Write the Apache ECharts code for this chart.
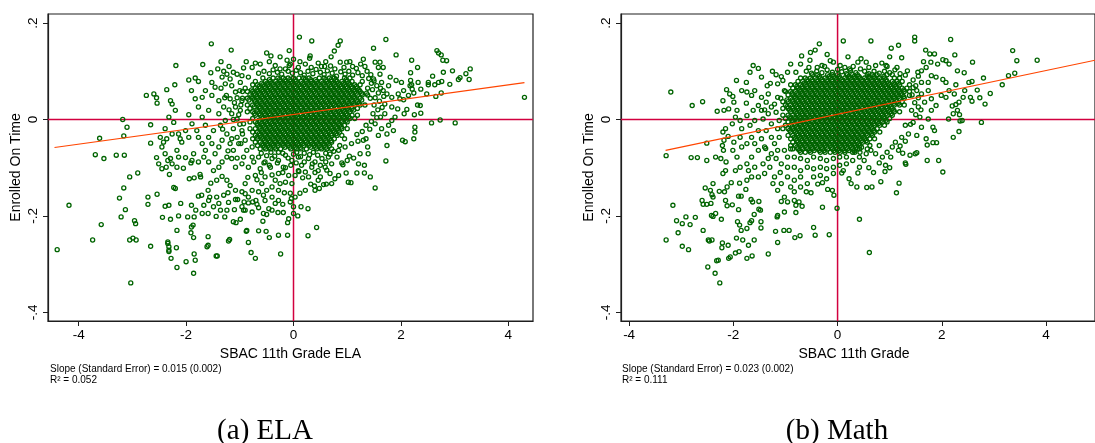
<!DOCTYPE html>
<html>
<head>
<meta charset="utf-8">
<title>Enrolled On Time vs SBAC 11th Grade</title>
<script src="https://cdn.jsdelivr.net/npm/echarts@6.0.0/dist/echarts.min.js"></script>
<style>
  html, body { margin: 0; padding: 0; background: #fff; }
  #chart { width: 1095px; height: 443px; }
</style>
</head>
<body>
<div id="chart"></div>
<script>
// ticks
const xTicks = [-4, -2, 0, 2, 4];
const yTicks = [-0.4, -0.2, 0, 0.2];

// axis ranges of the two panels
const yRange = [-0.418, 0.2189];
const elaXRange = [-4.571, 4.459];
const mathXRange = [-4.156, 4.94];

// fitted lines
const elaFitX = [-4.45, 4.3];
const elaFitY = [-0.058, 0.0765];
const mathFitX = [-3.3, 4.94];
const mathFitY = [-0.064, 0.123];

// ELA: scattered points around the cloud
const elaOuter = [
  [.11,.171],[.34,.163],[.87,.163],[.83,.154],[1.72,.166],[-1.53,.157],[-1.16,.144],[-.08,.143],[.76,.142],[1.49,.148],
  [1.91,.134],[2.67,.143],[2.7,.138],[2.75,.134],[2.78,.123],[2.85,.122],[2.2,.123],[-.5,.138],[-.42,.132],[-.71,.117],
  [-.12,.123],[.31,.132],[.3,.127],[-1.35,.12],[-1.69,.114],[-2.19,.112],[2.31,.108],[.87,.119],[.99,.119],[1.05,.12],
  [1.33,.11],[1.52,.119],[1.61,.119],[1.67,.108],[.46,.117],[.58,.11],[.69,.111],[.77,.105],[-.34,.112],[-.25,.105],
  [-.15,.105],[-.06,.115],[.09,.108],[.22,.115],[-.93,.107],[-.77,.108],[-.65,.096],[-1.12,.098],[-1.24,.094],[-1.41,.105],
  [-1.54,.097],[-1.83,.086],[-1.77,.079],[-1.95,.082],[-1.9,.06],[-2.21,.072],[-2.36,.062],
  [1.91,.081],[2.01,.077],[2.18,.097],[2.18,.081],[2.2,.072],[2.21,.063],[2.24,.055],[2.05,.06],[1.95,.053],[2.51,.077],
  [2.51,.072],[2.63,.072],[2.7,.077],[2.76,.079],[2.59,.09],[2.79,.098],[2.96,.101],[3.29,.105],[3.21,.095],[3.27,.083],
  [3.1,.087],[3.07,.083],[2.91,.073],[2.75,.055],[2.65,.048],[2.31,.03],[2.37,.013],[2.25,.01],[2.57,-.007],[2.73,-.001],
  [3.01,-.007],[4.3,.046],[2.05,.041],[2.11,.021],[2.06,.012],[2.26,-.016],[2.26,-.026],[2.24,-.04],[2.03,-.043],[2.08,-.046],
  [1.74,-.054],[1.72,-.086],[1.52,-.142],[1.43,-.119],[1.32,-.111],[1.18,-.111],[1.02,-.13],[1.07,-.131],[.84,-.116],[.92,-.094],
  [.98,-.111],[1.39,-.071],[1.24,-.071],[1.21,-.092],[1.32,-.095],[1.38,-.057],[1.18,-.031],[1.3,-.043],[1.04,-.076],[1.83,-.002],
  [1.89,.005],[1.77,-.012],[1.86,-.023],[1.74,-.03],[1.58,-.033],[1.64,-.019],[1.52,-.009],[1.94,.022],[1.83,.026],[1.7,.032],
  [1.98,.043],[1.83,.046],[1.74,.053],[1.67,.06],[1.77,.07],[1.64,.077],[1.8,.088],[1.61,.094],[1.49,.084],[1.58,.108],
  [2.17,.07],[2.14,.05],[2.36,.029],[2.48,.053],[2.37,.063],[2.32,.077],
  [.56,-.135],[.61,-.134],[.39,-.138],[.48,-.143],[.32,-.134],[.17,-.121],[.03,-.116],[.12,-.153],[-.06,-.153],[-.04,-.164],
  [-.06,-.171],[.14,-.181],[.27,-.185],[.08,-.2],[.43,-.224],[.27,-.241],[-.28,-.24],[-.24,-.279],[-.11,-.24],[-.09,-.206],
  [-.11,-.214],[-.29,-.193],[-.19,-.193],[-.2,-.176],[-.28,-.147],[-.17,-.152],[-.25,-.133],[-.34,-.126],[-.15,-.13],[-.03,-.133],
  [.09,-.106],[.22,-.109],[.34,-.099],[.46,-.106],[.59,-.099],[.71,-.092],[.68,-.112],[.5,-.119],[.28,-.119],[-.71,-.288],
  [-.79,-.276],[-.84,-.255],[-.45,-.245],[-.51,-.232],[-.65,-.231],[-.57,-.211],[-.5,-.197],[-.65,-.183],[-.68,-.176],[-.76,-.171],
  [-.84,-.173],[-.92,-.171],[-1.04,-.166],[-1.08,-.166],[-.9,-.188],[-.88,-.232],[-.99,-.207],[-1.07,-.214],[-1.12,-.212],[-1.21,-.252],
  [-1.19,-.249],[-.87,-.23],[-.53,-.168],[-.56,-.157],[-.65,-.15],[-.77,-.147],[-.9,-.133],[-.96,-.15],[-1.08,-.147],[-1.18,-.137],
  [-1.24,-.126],[-1.33,-.118],[-1.43,-.126],[-1.54,-.132],[-1.59,-.147],[-1.71,-.157],[-1.77,-.159],[-1.56,-.161],[-1.43,-.161],[-1.3,-.157],
  [-1.22,-.152],[-.4,-.161],[-.59,-.133],[-.53,-.119],[-.71,-.116],[-.62,-.102],[-.43,-.099],[-.28,-.112],[-.19,-.099],[-.09,-.116],
  [-.84,-.099],[-.96,-.092],[-1.08,-.099],[-1.15,-.081],[-1.24,-.078],[-1.33,-.088],[-1.39,-.099],[-1.49,-.106],[-1.58,-.088],[-1.67,-.078],
  [-1.77,-.088],[-1.89,-.085],[-1.91,-.09],[-2.01,-.079],[-2.05,-.101],[-1.86,-.071],[-1.85,-.121],[-1.94,-.123],[-1.74,-.114],[-1.73,-.119],
  [-2.23,-.141],[-2.2,-.143],[-2.31,-.114],[-2.55,-.079],[-2.45,-.057],[-2.36,-.04],[-2.29,-.081],[-2.39,-.071],[-2.26,-.092],[-2.17,-.099],
  [-2.14,-.078],[-2.17,-.064],[-2.08,-.047],[-2.26,-.03],[-2.14,-.03],[-2.11,-.04],[-2.23,-.006],[-2.2,.019],[-2.26,.032],[-2.29,.039],
  [-1.95,.01],[-1.89,-.009],[-1.8,-.023],[-1.77,-.037],[-1.95,-.037],[-2.01,-.023],[-1.7,-.05],[-1.64,-.064],[-1.52,-.05],[-1.46,-.071],
  [-1.39,-.057],[-1.58,-.037],[-1.49,-.023],[-1.64,-.012],[-1.7,.005],[-1.58,.019],[-1.77,.026],[-1.83,.043],[-1.7,.046],[-1.52,.05],
  [-1.64,.06],[-1.46,.067],[-1.52,.077],[-1.33,.088],[-1.27,.074],[-1.39,.039],[-1.3,.026],[-1.39,.012],[-1.27,-.002],[-1.36,-.012],
  [-1.24,-.03],[-1.33,-.043],[-1.18,-.05],[-1.12,-.064],[-1.02,-.05],[-1.05,-.037],[-1.12,-.019],[-1.05,.001],[-1.15,.012],[-1.08,.026],
  [-1.18,.043],[-1.08,.057],[-1.15,.07],[-.99,.077],[-.96,.091],[-1.05,.094],[-1.18,.084],[-.84,.088],[-.96,.039],[-.99,.019],
  [-.93,-.009],[-.96,-.023],[-.9,-.043],[-.87,-.064],[-.93,-.078],[-.77,-.078],[-.77,-.057],[-.74,-.088],[-.03,-.085],[.09,-.078],
  [.28,-.081],[.4,-.088],[.53,-.081],[.65,-.078],[.81,-.078],[.84,-.064],[.96,-.057],[1.08,-.05],[-.28,-.085],[-.4,-.081],
  [-.53,-.088],[-.65,-.078],[-.15,-.074],[-.28,-.068],[.15,-.095],[.46,-.126],[.71,-.133],[.77,-.123],[-.4,-.14],[-.5,-.147],
  [-.96,-.181],[-.93,-.188],[-.46,-.185],[-.4,-.188],[-.56,-.195],[-.77,-.192],[-1.1,-.187],[-1.21,-.172],[-1.24,-.188],[-1.36,-.188],
  [-1.49,-.181],[-1.28,-.202],[-1.44,-.201],[-1.59,-.195],[-1.61,-.264],[-1.59,-.261],[-1.59,-.243],[-1.42,-.283],[-1.44,-.283],[-1.85,-.279],
  [-1.83,-.292],[-2,-.295],[-1.86,-.319],[-2.17,-.307],[-2.18,-.266],[-2.17,-.23],[-2.28,-.288],[-2.34,-.254],[-2.34,-.257],[-2.32,-.264],
  [-2.32,-.271],[-2.32,-.274],[-2.44,-.203],[-2.29,-.207],[-2.39,-.18],[-2.32,-.178],[-2.1,-.174],[-1.9,-.178],[-2.14,-.2],[-1.97,-.202],
  [-1.85,-.202],[-1.87,-.219],[-1.9,-.223],[-1.91,-.235],[-1.86,-.245],[-2.66,-.263],[-2.93,-.25],[-2.99,-.246],[-3.05,-.25],[-2.96,-.21],
  [-2.94,-.216],[-3.03,-.339],[-3.13,-.187],[-3.21,-.202],[-3.24,-.163],[-3.16,-.142],[-3.05,-.119],[-2.9,-.111],[-3.58,-.218],[-3.74,-.25],
  [-4.18,-.178],[-4.4,-.27],[-3.69,-.073],[-3.53,-.081],[-3.3,-.074],[-3.15,-.074],[-3.61,-.039],[-3.16,-.034],[-3.1,-.016],[-3.18,0],
  [-2.74,.05],[-2.6,.053],[-2.55,.045],[-2.54,.034],[-2.66,-.011],[-2.66,-.049],[-2.71,-.161],[-2.71,-.176],[-2.54,-.155],[-2.48,-.037],
  [-2.42,-.047],[-2.39,-.019],[-2.32,.005],[-2.51,-.092],[-2.45,-.102],[-2.37,-.099],[-2.34,-.085],[-1.82,-.188],[-1.7,-.195],[-1.67,-.178],
  [-1.58,-.168],[-1.39,-.174],[-.9,-.154],[-.84,-.161],[-.7,-.168],[-.34,-.174],[-.28,-.168],[0,-.181],[0,-.195],[.03,-.161],
  [.22,-.147],[.4,-.147],
  [-1.3,.1],[-1.2,.11],[-.88,.12],[-.62,.115],[-.45,.12],[-1.35,.065],[-1.28,.045],[-1.32,-.02],[-1.22,-.065],[-1.05,-.08],
  [-.85,-.12],[-.68,-.125],[.9,-.09],[1,-.085],[1.12,-.08],[1.1,.11],[1.3,.125],[.7,.13],[0,.125],[-.25,.13]
];

// ELA: edge of the dense cloud
const elaFringe = [
  [-.55,.1],[-.45,.095],[-.38,.103],[-.3,.098],[-.22,.094],[-.1,.1],[-.02,.096],[.05,.102],[.13,.097],[.2,.092],
  [.27,.1],[.36,.095],[.42,.104],[.5,.098],[.57,.093],[.63,.101],[.72,.096],[.8,.09],[.88,.099],[.96,.094],
  [1.03,.1],[1.1,.092],[1.2,.097],[1.28,.091],[1.37,.1],[1.44,.093],[.12,.12],[.52,.11],[.94,.108],[1.17,.106],
  [-.08,.112],[.33,.108],[.6,.12],[1.25,.115],
  [1.5,.08],[1.55,.07],[1.47,.062],[1.58,.055],[1.52,.045],[1.6,.038],[1.5,.03],[1.57,.02],[1.48,.012],[1.55,.004],
  [1.45,-.004],[1.35,-.012],[1.42,-.02],[1.28,-.025],[1.35,-.04],[1.2,-.045],[1.62,.065],[1.68,.048],[1.65,.025],[1.7,.012],
  [1.62,.005],[1.4,.085],[1.45,.075],
  [-1,.06],[-1.05,.045],[-.98,.03],[-1.02,.01],[-1,-.01],[-.95,-.03],[-.98,-.05],[-1.1,.035],[-1.12,0],[-1.2,.02],
  [-1.15,-.04],[-1.25,.05],
  [-.6,-.07],[-.5,-.075],[-.42,-.068],[-.35,-.076],[-.2,-.07],[-.1,-.08],[0,-.072],[.06,-.068],[.13,-.077],[.2,-.07],
  [.3,-.073],[.37,-.068],[.45,-.074],[.6,-.07],[.68,-.072],[.75,-.066],[-.55,-.09],[-.45,-.095],[-.3,-.09],[-.15,-.1],
  [-.05,-.095],[.05,-.09],[.2,-.088],[.35,-.092],[.5,-.095],[.6,-.088],[-.6,-.11],[-.4,-.115],[-.2,-.11],[.1,-.108],
  [.4,-.11],[.62,-.105]
];

// ELA: solid core, one list of x values per y level
const elaCoreY = [.086,.079,.072,.065,.058,.051,.044,.037,.030,.023,.016,.009,.002,-.005,-.012,-.019,-.026,-.033,-.040,-.047,-.054,-.061];
const elaCoreX = [
  [-.57,-.38,-.29,-.19,-.1,0,.1,.19,.29,.48,.57,.67,.76,.95,1.05],
  [-.71,-.52,-.43,-.33,-.24,-.14,-.05,.05,.14,.24,.33,.43,.52,.62,.71,.81,.9,1,1.09,1.28],
  [-.76,-.67,-.57,-.48,-.38,-.29,-.19,-.1,0,.1,.19,.29,.38,.48,.57,.67,.76,.86,.95,1.05,1.14,1.24],
  [-.9,-.71,-.62,-.52,-.43,-.33,-.24,-.14,-.05,.05,.14,.24,.33,.43,.52,.62,.71,.81,.9,1,1.09,1.19,1.38],
  [-.95,-.86,-.76,-.67,-.57,-.48,-.38,-.29,-.19,-.1,0,.1,.19,.29,.38,.48,.57,.67,.76,.86,.95,1.05,1.14,1.24],
  [-.81,-.71,-.62,-.52,-.43,-.33,-.24,-.14,-.05,.05,.14,.24,.33,.43,.52,.62,.71,.81,.9,1,1.09,1.19,1.28,1.38],
  [-.95,-.86,-.76,-.67,-.57,-.48,-.38,-.29,-.19,-.1,0,.1,.19,.29,.38,.48,.57,.67,.76,.86,.95,1.05,1.14,1.24,1.43],
  [-.71,-.62,-.52,-.43,-.33,-.24,-.14,-.05,.05,.14,.24,.33,.43,.52,.62,.71,.81,.9,1,1.09,1.19],
  [-.86,-.76,-.67,-.57,-.48,-.38,-.29,-.19,-.1,0,.1,.19,.29,.38,.48,.57,.67,.76,.86,.95,1.05,1.14,1.24,1.33],
  [-.81,-.62,-.52,-.43,-.33,-.24,-.14,-.05,.05,.14,.24,.33,.43,.52,.62,.71,.81,.9,1,1.09,1.19],
  [-.86,-.76,-.67,-.57,-.48,-.38,-.29,-.19,-.1,0,.1,.19,.29,.38,.48,.57,.67,.76,.86,.95,1.05],
  [-.71,-.62,-.52,-.43,-.33,-.24,-.14,-.05,.05,.14,.24,.33,.43,.52,.62,.71,.81,.9,1,1.09,1.19],
  [-.76,-.57,-.48,-.38,-.29,-.19,-.1,0,.1,.19,.29,.38,.48,.57,.67,.76,.86,.95,1.05,1.14],
  [-.81,-.71,-.62,-.52,-.43,-.33,-.24,-.14,-.05,.05,.14,.24,.33,.43,.52,.62,.71,.81,.9,1],
  [-.67,-.57,-.48,-.38,-.29,-.19,-.1,0,.1,.19,.29,.38,.48,.57,.67,.76,.86,.95],
  [-.81,-.71,-.62,-.52,-.43,-.33,-.24,-.14,-.05,.05,.14,.24,.33,.43,.52,.62,.71,.81,.9,1],
  [-.76,-.67,-.57,-.48,-.38,-.29,-.19,-.1,0,.1,.19,.29,.38,.48,.57,.67,.76,.86],
  [-.71,-.62,-.52,-.43,-.33,-.24,-.14,-.05,.05,.14,.24,.33,.43,.52,.62,.71,.81,.9],
  [-.76,-.67,-.57,-.48,-.38,-.29,-.19,-.1,0,.1,.19,.29,.38,.48,.57,.67,.76,.95],
  [-.71,-.62,-.52,-.43,-.33,-.24,-.14,-.05,.05,.14,.24,.33,.43,.52,.62,.71],
  [-.67,-.57,-.48,-.38,-.29,-.19,-.1,0,.1,.19,.29,.38,.48,.57,.67,.86],
  [-.62,-.52,-.43,-.33,-.24,-.05,.05,.14,.24,.43,.52,.62,.71]
];

// ELA: in-between levels where the cloud is darkest
const elaMidY = [.0825,.0755,.0685,.0615,.0545,.0475,.0405,.0335,.0265,.0195,.0125,.0055,-.0015,-.0085,-.0155,-.0225,-.0295,-.0365,-.0435,-.0505,-.0575];
const elaMidX = [
  [-.45,-.26,-.16,-.07,.03,.22,.32,.41,.6,.7,.79,.98],
  [-.59,-.49,-.4,-.3,-.21,-.11,-.02,.08,.17,.27,.36,.46,.55,.65,.74,.84,.93,1.03],
  [-.64,-.54,-.45,-.35,-.26,-.16,-.07,.03,.13,.22,.32,.41,.51,.6,.7,.79,.89,.98,1.08,1.17],
  [-.78,-.68,-.59,-.49,-.4,-.3,-.21,-.11,-.02,.08,.17,.27,.36,.46,.55,.65,.74,.84,.93,1.03,1.12,1.22],
  [-.73,-.64,-.54,-.45,-.35,-.26,-.16,-.07,.03,.13,.22,.32,.41,.51,.6,.7,.79,.89,.98,1.08,1.17,1.27,1.36],
  [-.78,-.68,-.59,-.49,-.4,-.3,-.21,-.11,-.02,.08,.17,.27,.36,.46,.55,.65,.74,.84,.93,1.03,1.12],
  [-.83,-.73,-.64,-.54,-.45,-.35,-.26,-.16,-.07,.03,.13,.22,.32,.41,.51,.6,.7,.79,.89,.98,1.08,1.17,1.27],
  [-.68,-.59,-.49,-.4,-.3,-.21,-.11,-.02,.08,.17,.27,.36,.46,.55,.65,.74,.84,.93,1.03,1.12,1.22],
  [-.73,-.64,-.54,-.45,-.35,-.26,-.16,-.07,.03,.13,.22,.32,.41,.51,.6,.7,.79,.89,.98,1.08],
  [-.68,-.59,-.49,-.4,-.3,-.21,-.11,-.02,.08,.17,.27,.36,.46,.55,.65,.74,.84,.93,1.03,1.12],
  [-.73,-.64,-.54,-.45,-.35,-.26,-.16,-.07,.03,.13,.22,.32,.41,.51,.6,.7,.79,.89,.98],
  [-.59,-.49,-.4,-.3,-.21,-.11,-.02,.08,.17,.27,.36,.46,.55,.65,.74,.84,.93,1.03],
  [-.64,-.54,-.45,-.35,-.26,-.16,-.07,.03,.13,.22,.32,.41,.51,.6,.7,.79,.89,.98],
  [-.68,-.59,-.49,-.4,-.3,-.21,-.11,-.02,.08,.17,.27,.36,.46,.55,.65,.74,.84],
  [-.64,-.54,-.45,-.35,-.26,-.16,-.07,.03,.13,.22,.32,.41,.51,.6,.7,.79,.89],
  [-.59,-.49,-.4,-.3,-.21,-.11,-.02,.08,.17,.27,.36,.46,.55,.65,.74,.84],
  [-.64,-.54,-.45,-.35,-.26,-.16,-.07,.03,.13,.22,.32,.41,.51,.6,.7,.79],
  [-.68,-.59,-.49,-.4,-.3,-.21,-.11,-.02,.08,.17,.27,.36,.46,.55,.65],
  [-.54,-.45,-.35,-.26,-.16,-.07,.03,.13,.22,.32,.41,.51,.6,.7],
  [-.59,-.49,-.4,-.3,-.21,-.11,-.02,.08,.17,.27,.36,.46,.55,.65],
  [-.54,-.45,-.35,-.16,-.07,.03,.13,.32,.41,.51,.6]
];

// Math: scattered points around the cloud
const mathOuter = [
  [-3.2,.057],[-2.79,.029],[-2.59,.037],[-3.29,-.075],[-2.81,-.079],[-2.69,-.079],[-2.51,-.049],[-2.51,-.085],[-3.16,-.178],[-3.09,-.21],
  [-2.98,-.216],[-2.91,-.202],[-2.83,-.218],[-2.73,-.203],[-3.06,-.235],[-3.29,-.25],[-2.98,-.263],[-2.86,-.27],[-2.58,-.23],[-2.48,-.25],
  [-2.46,-.252],[-2.41,-.25],[-2.49,-.306],[-2.35,-.319],[-2.26,-.339],[-2.32,-.293],[-2.29,-.292],[-2.21,-.256],[-2.22,-.266],[-2.1,-.261],
  [-2.06,-.285],[-2.09,-.288],[-2.23,-.207],[-2.39,-.201],[-2.42,-.199],[-2.34,-.195],[-2.6,-.168],[-2.51,-.176],[-2.43,-.174],[-2.58,-.176],
  [-2.54,-.142],[-2.41,-.156],[-2.39,-.161],[-2.44,-.147],[-2.27,-.149],[-2.39,-.133],[-2.17,-.15],[-2.12,-.14],[-2.04,-.131],[-2.15,-.168],
  [-2.12,-.179],[-2.02,-.177],[-1.9,-.187],[-1.9,-.159],[-1.85,-.159],[-1.88,-.132],[-1.76,-.145],[-1.66,-.166],[-1.63,-.171],[-1.51,-.17],
  [-1.51,-.186],[-1.48,-.188],[-1.6,-.197],[-1.65,-.21],[-1.68,-.214],[-1.74,-.226],[-1.85,-.23],[-1.92,-.212],[-1.88,-.219],[-1.94,-.246],
  [-1.82,-.25],[-1.71,-.261],[-1.64,-.283],[-1.74,-.288],[-1.89,-.274],[-1.96,-.277],[-1.6,-.25],[-1.47,-.225],[-1.47,-.212],[-1.33,-.279],
  [-1.19,-.232],[-1.15,-.255],[-1.16,-.202],[-1.15,-.199],[-1.02,-.192],[-1.03,-.23],[-.93,-.23],[-.82,-.245],[-.72,-.241],[-.8,-.193],
  [-.68,-.18],[-.8,-.178],[-.83,-.168],[-.74,-.171],[-.96,-.171],[-1.08,-.17],[-1.02,-.161],[-.83,-.15],[-.46,-.224],[-.43,-.24],
  [-.16,-.239],[-.29,-.182],[-.01,-.184],[-.51,-.152],[-.19,-.145],[-.1,-.147],[-.07,-.157],[-.38,-.134],[-.29,-.131],[.42,-.207],
  [.61,-.276],[.22,-.123],[.26,-.133],[.37,-.14],[.56,-.141],[.66,-.14],[.83,-.129],[1.13,-.152],[1.18,-.132],[.69,-.11],
  [.91,-.108],[.92,-.095],[.51,-.085],[.39,-.111],[.42,-.099],[.08,-.111],[.11,-.106],[-.08,-.112],[1.3,-.09],[1.31,-.093],
  [1.39,-.074],[1.49,-.071],[1.52,-.069],[1.72,-.085],[1.94,-.085],[2.02,-.109],[1.72,-.053],[1.83,-.048],[1.9,-.048],[2.22,-.037],
  [2.33,-.025],[2.35,-.003],[2.39,-.002],[2.34,.01],[2.22,.012],[2.13,.001],[2.76,-.006],[2.83,.032],[2.93,.054],[2.73,.045],
  [2.58,.038],[2.55,.046],[2.68,.061],[2.52,.077],[2.58,.079],[2.8,.086],[3.16,.072],[3.28,.091],[3.4,.096],[3.36,.143],
  [3.44,.122],[3.83,.123],[2.41,.046],[2.44,.06],[2.43,.097],[2.59,.119],[2.3,.101],[2.25,.134],[2.17,.166],[2.14,.115],
  [2.08,.122],[2.02,.124],[1.86,.136],[1.77,.136],[1.69,.144],[1.79,.119],[1.92,.115],[2.02,.083],[2.08,.077],[2.27,.072],
  [2.24,.053],[2.33,.036],[2.27,.031],[2.3,.019],[2.2,.028],[1.99,.05],[2.08,.046],[2.14,.06],[1.89,.029],[1.8,.019],
  [1.83,-.016],[1.86,-.023],[1.74,.001],[1.61,-.016],[1.52,-.033],[1.58,.005],[1.48,.163],[1.48,.171],[1.17,.154],[1.03,.148],
  [1.23,.128],[1.14,.108],[1.34,.101],[1.54,.098],[1.61,.101],[1.7,.108],[1.8,.091],[1.89,.088],[1.74,.077],[1.61,.077],
  [1.45,.082],[1.52,.06],[1.61,.053],[1.74,.06],[1.8,.043],[1.67,.036],[1.55,.026],[1.42,.019],[1.45,-.006],[1.3,-.012],
  [1.36,-.03],[1.23,-.037],[1.11,-.047],[1.17,-.064],[1.05,-.057],[.95,-.068],[1.02,-.078],[.86,-.078],[.73,-.071],[.8,-.054],
  [.64,-.064],[.11,.163],[.64,.163],[.85,.117],[.93,.112],[.73,.112],[.55,.119],[.45,.126],[.39,.119],[.23,.105],
  [.14,.108],[-.08,.119],[-.14,.122],[-.3,.112],[-.35,.157],[-.43,.144],[-.52,.139],[-.53,.123],[-.69,.132],[-.71,.115],
  [-.55,.108],[-.39,.108],[-.9,.115],[-.8,.098],[-.96,.098],[-1.08,.089],[-1.18,.093],[-1.29,.075],[-1.15,.074],[-1.05,.081],
  [-1.46,.088],[-1.52,.106],[-1.62,.112],[-1.68,.098],[-1.75,.077],[-1.84,.06],[-1.94,.081],[-2.13,.062],[-2.07,.053],[-2.01,.048],
  [-2.2,.039],[-2.31,.017],[-2.18,.019],[-2.09,.022],[-1.99,.036],[-1.93,.019],[-1.75,.034],[-1.65,.05],[-1.74,.057],[-1.59,.06],
  [-1.46,.046],[-1.33,.053],[-1.37,.036],[-1.52,.029],[-1.62,.019],[-1.74,.008],[-1.87,-.002],[-1.96,.005],[-2.02,-.009],[-2.15,-.019],
  [-2.2,-.026],[-2.1,-.035],[-2.18,-.043],[-2.21,-.054],[-2.19,-.064],[-2.34,-.078],[-2.24,-.081],[-2.14,-.088],[-2.2,-.112],[-2.15,-.106],
  [-2.01,-.064],[-1.93,-.078],[-1.84,-.057],[-1.74,-.05],[-1.87,-.037],[-1.99,-.047],[-1.84,-.019],[-1.68,-.012],[-1.59,-.002],[-1.52,-.023],
  [-1.65,-.037],[-1.59,-.05],[-1.46,-.04],[-1.37,-.023],[-1.27,-.009],[-1.27,-.037],[-1.4,-.057],[-1.52,-.064],[-1.65,-.078],[-1.74,-.092],
  [-1.87,-.099],[-1.96,-.106],[-1.71,-.106],[-1.59,-.099],[-1.43,-.092],[-1.33,-.081],[-1.27,-.071],[-1.3,-.099],[-1.4,-.112],[-1.52,-.119],
  [-1.65,-.119],[-1.74,-.126],[-1.21,-.119],[-1.08,-.133],[-1.24,-.133],[-1.15,-.147],[-.96,-.119],[-.83,-.126],[-.71,-.119],[-.58,-.133],
  [-.46,-.119],[-.33,-.116],[-.21,-.123],[-.71,-.14],[-.96,-.099],[-1.08,-.092],[-1.18,-.081],[-1.15,-.064],[-1.21,-.05],[-1.12,-.037],
  [-1.15,-.019],[-1.12,-.002],[-1.18,.015],[-1.21,.032],[-1.15,.046],[-1.27,.026],[-1.33,.012],[-1.43,.001],[-1.46,.019],[-1.02,.06],
  [-.83,-.099],[-.71,-.106],[-.58,-.099],[-.46,-.102],[-.33,-.099],[-.21,-.102],[-.08,-.099],[.04,-.095],[.17,-.092],[.29,-.085],
  [.42,-.078],[.55,-.071],[.17,-.078],[.04,-.078],[-.08,-.081],[-.21,-.085],[-.33,-.081],[-.46,-.078],[-.58,-.085],[-.71,-.081],
  [-.83,-.078],[-.96,-.078],[-1.02,-.064],[-.9,-.061],[.29,-.068],[.42,-.061],
  [-1.35,.07],[-1.25,.1],[-1.4,.02],[-1.38,-.06],[-1.1,-.11],[-.9,-.14],[-.6,-.15],[.6,-.1],[.8,-.09],[1,-.1],
  [1.25,-.07],[1.55,.09],[1.65,.12],[.2,.13],[-.2,.135],[1,.13],[1.6,.02],[1.7,-.04]
];

// Math: edge of the dense cloud
const mathFringe = [
  [-.6,.1],[-.5,.096],[-.4,.1],[-.3,.097],[-.2,.103],[-.1,.098],[0,.104],[.08,.099],[.17,.095],[.25,.102],
  [.35,.097],[.44,.105],[.52,.1],[.6,.095],[.7,.1],[.8,.096],[.9,.1],[1,.097],[1.1,.103],[1.2,.095],
  [1.3,.092],[-.25,.11],[.05,.112],[.3,.11],[.6,.108],[.95,.11],
  [1.5,.07],[1.55,.045],[1.48,.035],[1.5,.01],[1.4,-.01],[1.38,.05],[1.45,.066],[1.3,-.045],[1.2,-.055]
];

// Math: solid core, one list of x values per y level
const mathCoreY = [.093,.086,.079,.072,.065,.058,.051,.044,.037,.030,.023,.016,.009,.002,-.005,-.012,-.019,-.026,-.033,-.040,-.047,-.054,-.061,-.068];
const mathCoreX = [
  [-.48,-.38,-.19,-.1,0,.19,.29,.38,.57,.67,.76,.95,1.05],
  [-.71,-.62,-.52,-.43,-.33,-.24,-.14,-.05,.05,.14,.24,.33,.43,.52,.62,.71,.81,.9,1.09,1.19],
  [-.76,-.67,-.57,-.48,-.38,-.29,-.19,-.1,0,.1,.19,.29,.38,.48,.57,.67,.76,.86,.95,1.05,1.14,1.24],
  [-.9,-.81,-.71,-.62,-.52,-.43,-.33,-.24,-.14,-.05,.05,.14,.24,.33,.43,.52,.62,.71,.81,.9,1,1.09,1.19,1.38],
  [-.86,-.76,-.67,-.57,-.48,-.38,-.29,-.19,-.1,0,.1,.19,.29,.38,.48,.57,.67,.76,.86,.95,1.05,1.14,1.24,1.33],
  [-1,-.9,-.81,-.71,-.62,-.52,-.43,-.33,-.24,-.14,-.05,.05,.14,.24,.33,.43,.52,.62,.71,.81,.9,1,1.09,1.19,1.28,1.38],
  [-.95,-.86,-.76,-.67,-.57,-.48,-.38,-.29,-.19,-.1,0,.1,.19,.29,.38,.48,.57,.67,.76,.86,.95,1.05,1.14,1.24,1.43],
  [-1.09,-.9,-.81,-.71,-.62,-.52,-.43,-.33,-.24,-.14,-.05,.05,.14,.24,.33,.43,.52,.62,.71,.81,.9,1,1.09,1.19,1.28],
  [-1.05,-.95,-.86,-.76,-.67,-.57,-.48,-.38,-.29,-.19,-.1,0,.1,.19,.29,.38,.48,.57,.67,.76,.86,.95,1.05,1.14,1.24],
  [-1,-.9,-.81,-.71,-.62,-.52,-.43,-.33,-.24,-.14,-.05,.05,.14,.24,.33,.43,.52,.62,.71,.81,.9,1,1.09,1.19,1.28],
  [-1.05,-.95,-.86,-.76,-.67,-.57,-.48,-.38,-.29,-.19,-.1,0,.1,.19,.29,.38,.48,.57,.67,.76,.86,.95,1.05],
  [-.9,-.81,-.71,-.62,-.52,-.43,-.33,-.24,-.14,-.05,.05,.14,.24,.33,.43,.52,.62,.71,.81,.9,1,1.09,1.19],
  [-1.05,-.95,-.86,-.76,-.67,-.57,-.48,-.38,-.29,-.19,-.1,0,.1,.19,.29,.38,.48,.57,.67,.76,.86,.95,1.05],
  [-1,-.9,-.81,-.71,-.62,-.52,-.43,-.33,-.24,-.14,-.05,.05,.14,.24,.33,.43,.52,.62,.71,.81,.9,1],
  [-.95,-.86,-.76,-.67,-.57,-.48,-.38,-.29,-.19,-.1,0,.1,.19,.29,.38,.48,.57,.67,.76,.86,.95],
  [-1,-.9,-.81,-.71,-.62,-.52,-.43,-.33,-.24,-.14,-.05,.05,.14,.24,.33,.43,.52,.62,.71,.81,.9],
  [-1.05,-.95,-.86,-.76,-.67,-.57,-.48,-.38,-.29,-.19,-.1,0,.1,.19,.29,.38,.48,.57,.67,.76],
  [-.9,-.81,-.71,-.62,-.52,-.43,-.33,-.24,-.14,-.05,.05,.14,.24,.33,.43,.52,.62,.71,.81],
  [-.95,-.86,-.76,-.67,-.57,-.48,-.38,-.29,-.19,-.1,0,.1,.19,.29,.38,.48,.57,.67],
  [-.9,-.81,-.71,-.62,-.52,-.43,-.33,-.24,-.14,-.05,.05,.14,.24,.33,.43,.52,.62,.71],
  [-.86,-.76,-.67,-.57,-.48,-.38,-.29,-.19,-.1,0,.1,.19,.29,.38,.48,.57],
  [-.9,-.81,-.71,-.62,-.52,-.43,-.33,-.24,-.14,-.05,.05,.14,.24,.33,.43,.62],
  [-.86,-.76,-.67,-.57,-.48,-.38,-.29,-.19,-.1,0,.1,.19,.29,.38,.57],
  [-.71,-.62,-.52,-.33,-.24,-.14,-.05,.05,.14,.33,.43]
];

// Math: in-between levels where the cloud is darkest
const mathMidY = [.0895,.0825,.0755,.0685,.0615,.0545,.0475,.0405,.0335,.0265,.0195,.0125,.0055,-.0015,-.0085,-.0155,-.0225,-.0295,-.0365,-.0435,-.0505,-.0575,-.0645];
const mathMidX = [
  [-.35,-.16,-.07,.03,.22,.32,.41,.6,.7,.89],
  [-.59,-.49,-.4,-.3,-.21,-.11,-.02,.08,.17,.27,.36,.46,.55,.65,.74,.84,.93],
  [-.64,-.54,-.45,-.35,-.26,-.16,-.07,.03,.13,.22,.32,.41,.51,.6,.7,.79,.89,.98,1.08,1.17],
  [-.78,-.68,-.59,-.49,-.4,-.3,-.21,-.11,-.02,.08,.17,.27,.36,.46,.55,.65,.74,.84,.93,1.03,1.12],
  [-.73,-.64,-.54,-.45,-.35,-.26,-.16,-.07,.03,.13,.22,.32,.41,.51,.6,.7,.79,.89,.98,1.08,1.17,1.27],
  [-.87,-.78,-.68,-.59,-.49,-.4,-.3,-.21,-.11,-.02,.08,.17,.27,.36,.46,.55,.65,.74,.84,.93,1.03,1.12,1.22],
  [-.83,-.73,-.64,-.54,-.45,-.35,-.26,-.16,-.07,.03,.13,.22,.32,.41,.51,.6,.7,.79,.89,.98,1.08,1.17,1.27],
  [-.97,-.87,-.78,-.68,-.59,-.49,-.4,-.3,-.21,-.11,-.02,.08,.17,.27,.36,.46,.55,.65,.74,.84,.93,1.03,1.12],
  [-.83,-.73,-.64,-.54,-.45,-.35,-.26,-.16,-.07,.03,.13,.22,.32,.41,.51,.6,.7,.79,.89,.98,1.08,1.17],
  [-.97,-.87,-.78,-.68,-.59,-.49,-.4,-.3,-.21,-.11,-.02,.08,.17,.27,.36,.46,.55,.65,.74,.84,.93,1.03],
  [-.92,-.83,-.73,-.64,-.54,-.45,-.35,-.26,-.16,-.07,.03,.13,.22,.32,.41,.51,.6,.7,.79,.89,.98,1.08],
  [-.78,-.68,-.59,-.49,-.4,-.3,-.21,-.11,-.02,.08,.17,.27,.36,.46,.55,.65,.74,.84,.93,1.03],
  [-.92,-.83,-.73,-.64,-.54,-.45,-.35,-.26,-.16,-.07,.03,.13,.22,.32,.41,.51,.6,.7,.79,.89],
  [-.87,-.78,-.68,-.59,-.49,-.4,-.3,-.21,-.11,-.02,.08,.17,.27,.36,.46,.55,.65,.74,.84,.93],
  [-.83,-.73,-.64,-.54,-.45,-.35,-.26,-.16,-.07,.03,.13,.22,.32,.41,.51,.6,.7,.79],
  [-.87,-.78,-.68,-.59,-.49,-.4,-.3,-.21,-.11,-.02,.08,.17,.27,.36,.46,.55,.65],
  [-.92,-.83,-.73,-.64,-.54,-.45,-.35,-.26,-.16,-.07,.03,.13,.22,.32,.41,.51,.6,.7],
  [-.78,-.68,-.59,-.49,-.4,-.3,-.21,-.11,-.02,.08,.17,.27,.36,.46,.55,.65],
  [-.83,-.73,-.64,-.54,-.45,-.35,-.26,-.16,-.07,.03,.13,.22,.32,.41,.51],
  [-.78,-.68,-.59,-.49,-.4,-.3,-.21,-.11,-.02,.08,.17,.27,.36,.46,.55],
  [-.73,-.64,-.54,-.45,-.35,-.26,-.16,-.07,.03,.13,.22,.32,.41],
  [-.78,-.68,-.59,-.49,-.4,-.3,-.21,-.11,-.02,.08,.17,.27,.36,.46],
  [-.73,-.54,-.45,-.35,-.26,-.07,.03,.13,.22,.32]
];

const elaNote = ['Slope (Standard Error) = 0.015 (0.002)', 'R\u00b2 = 0.052'];
const mathNote = ['Slope (Standard Error) = 0.023 (0.002)', 'R\u00b2 = 0.111'];

const sans = "'Liberation Sans', Arial, Helvetica, sans-serif";
const green = '#006400';
const crimson = '#d2003f';
const frame = '#1e1e1e';

function rowPoints(ys, xs) {
  const out = [];
  ys.forEach(function (y, i) {
    xs[i].forEach(function (x) { out.push([x, y]); });
  });
  return out;
}

function yFmt(v) {
  if (v === 0) return '0';
  return (v < 0 ? '-' : '') + String(Math.abs(v)).replace(/^0/, '');
}

function xAxisFor(idx, range, name, pad) {
  return {
    gridIndex: idx, type: 'value', min: range[0], max: range[1],
    axisLine: { show: true, onZero: false, lineStyle: { color: frame, width: 1.2 } },
    axisTick: { show: true, length: 5, customValues: xTicks, lineStyle: { color: frame } },
    axisLabel: { customValues: xTicks, margin: 7, fontSize: 13.5, color: '#000', fontFamily: sans },
    splitLine: { show: false },
    name: name, nameLocation: 'middle', nameGap: 21,
    nameTextStyle: { fontSize: 14, color: '#000', fontFamily: sans, padding: pad }
  };
}

function yAxisFor(idx) {
  return {
    gridIndex: idx, type: 'value', min: yRange[0], max: yRange[1],
    axisLine: { show: true, onZero: false, lineStyle: { color: frame, width: 1.2 } },
    axisTick: { show: true, length: 5, customValues: yTicks, lineStyle: { color: frame } },
    axisLabel: { customValues: yTicks, rotate: 90, margin: 8, fontSize: 13.5, color: '#000', fontFamily: sans, formatter: yFmt },
    splitLine: { show: false },
    name: 'Enrolled On Time', nameLocation: 'middle', nameGap: 25, nameRotate: 90,
    nameTextStyle: { fontSize: 14, color: '#000', fontFamily: sans }
  };
}

function refLine(idx, data) {
  return {
    type: 'line', xAxisIndex: idx, yAxisIndex: idx, data: data, z: 1, silent: true,
    symbol: 'none', color: crimson, lineStyle: { color: crimson, width: 1.5 }
  };
}

function seriesFor(idx, xRange, points, fitX, fitY) {
  return [
    refLine(idx, [[0, yRange[0]], [0, yRange[1]]]),
    refLine(idx, [[xRange[0], 0], [xRange[1], 0]]),
    {
      type: 'scatter', xAxisIndex: idx, yAxisIndex: idx, data: points, z: 2, silent: true,
      symbol: 'circle', symbolSize: 4.1,
      itemStyle: { color: 'rgba(0,0,0,0)', borderColor: green, borderWidth: 1.3, opacity: 1 }
    },
    {
      type: 'line', xAxisIndex: idx, yAxisIndex: idx, z: 3, silent: true,
      data: [[fitX[0], fitY[0]], [fitX[1], fitY[1]]],
      symbol: 'none', color: '#ff4500', lineStyle: { color: '#ff4500', width: 1.2 }
    }
  ];
}

const elaPoints = elaOuter.concat(elaFringe, rowPoints(elaCoreY, elaCoreX), rowPoints(elaMidY, elaMidX));
const mathPoints = mathOuter.concat(mathFringe, rowPoints(mathCoreY, mathCoreX), rowPoints(mathMidY, mathMidX));

function noteText(x, y, text) {
  return { type: 'text', x: x, y: y, silent: true,
    style: { text: text, font: '10px ' + sans, fill: '#000', verticalAlign: 'middle' } };
}

function caption(x, text) {
  return { type: 'text', x: x, y: 431, silent: true,
    style: { text: text, font: "29px 'Liberation Serif', 'Times New Roman', serif", fill: '#000', align: 'center', verticalAlign: 'middle' } };
}

const chart = echarts.init(document.getElementById('chart'), null, { renderer: 'canvas' });

chart.setOption({
  animation: false,
  backgroundColor: '#fff',
  grid: [
    { left: 48, top: 14, width: 485, height: 307, show: true, borderColor: frame, borderWidth: 1.2, containLabel: false },
    { left: 621, top: 14, width: 485, height: 307, show: true, borderColor: frame, borderWidth: 1.2, containLabel: false }
  ],
  xAxis: [
    xAxisFor(0, elaXRange, 'SBAC 11th Grade ELA', [0, 0, 0, 0]),
    xAxisFor(1, mathXRange, 'SBAC 11th Grade', [0, 8, 0, 0])
  ],
  yAxis: [yAxisFor(0), yAxisFor(1)],
  series: seriesFor(0, elaXRange, elaPoints, elaFitX, elaFitY)
    .concat(seriesFor(1, mathXRange, mathPoints, mathFitX, mathFitY)),
  graphic: [
    noteText(50, 369, elaNote[0]),
    noteText(50, 380, elaNote[1]),
    noteText(622, 369, mathNote[0]),
    noteText(622, 380, mathNote[1]),
    caption(265, '(a) ELA'),
    caption(837, '(b) Math')
  ]
});
</script>
</body>
</html>
